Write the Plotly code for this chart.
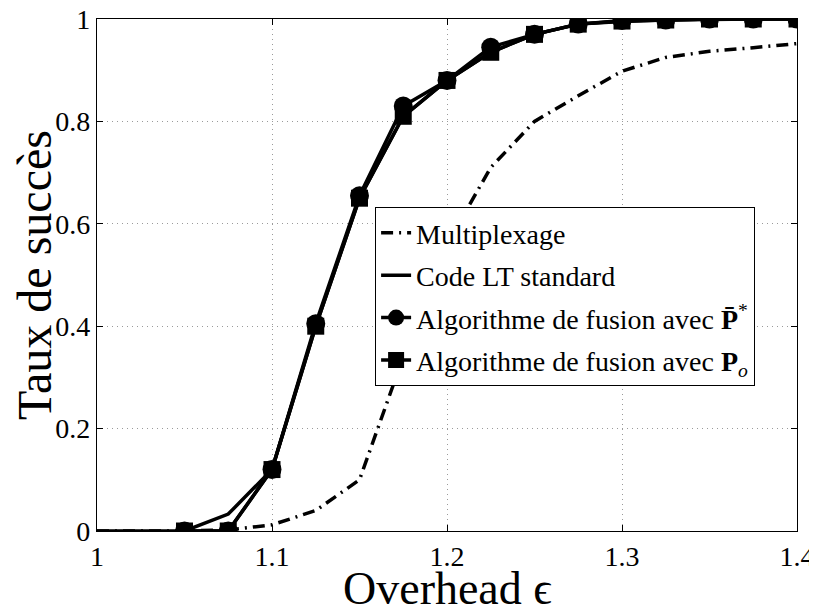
import plotly.graph_objects as go

x_all = [1.0, 1.025, 1.05, 1.075, 1.1, 1.125, 1.15, 1.175, 1.2, 1.225, 1.25, 1.275, 1.3, 1.325, 1.35, 1.375, 1.4]
multiplexage = [0, 0, 0, 0.002, 0.012, 0.04, 0.1, 0.34, 0.56, 0.71, 0.80, 0.85, 0.898, 0.925, 0.937, 0.944, 0.952]
lt_standard = [0, 0, 0, 0.033, 0.12, 0.40, 0.65, 0.81, 0.88, 0.935, 0.97, 0.99, 0.995, 0.998, 1.0, 1.0, 1.0]

x_fusion = [1.05, 1.075, 1.1, 1.125, 1.15, 1.175, 1.2, 1.225, 1.25, 1.275, 1.3, 1.325, 1.35, 1.375, 1.4]
fusion_pbar = [0, 0, 0.12, 0.405, 0.655, 0.83, 0.88, 0.945, 0.97, 0.99, 0.997, 0.998, 1.0, 1.0, 1.0]
fusion_po = [0, 0, 0.12, 0.40, 0.65, 0.81, 0.88, 0.935, 0.97, 0.99, 0.996, 0.998, 1.0, 1.0, 1.0]

x_ticks = [1, 1.1, 1.2, 1.3, 1.4]
x_tick_text = ["1", "1.1", "1.2", "1.3", "1.4"]
y_ticks = [0, 0.2, 0.4, 0.6, 0.8, 1]
y_tick_text = ["0", "0.2", "0.4", "0.6", "0.8", "1"]

x_title = "Overhead ϵ"
y_title = "Taux de succès"

FONT = "Liberation Serif, DejaVu Serif, serif"

fig = go.Figure()
fig.add_trace(go.Scatter(x=x_all, y=multiplexage, mode="lines", name="Multiplexage",
                         line=dict(color="black", width=3.5, dash="12px,6px,2px,6px"), legendgroup="a"))
fig.add_trace(go.Scatter(x=x_all, y=lt_standard, mode="lines", name="Code LT standard",
                         line=dict(color="black", width=3.5), legendgroup="b"))
fig.add_trace(go.Scatter(x=x_fusion, y=fusion_pbar, mode="lines+markers",
                         name="Algorithme de fusion avec <b>P̄</b><sup>*</sup>",
                         line=dict(color="black", width=3.5),
                         marker=dict(symbol="circle", size=19, color="black"), legendgroup="c"))
fig.add_trace(go.Scatter(x=x_fusion, y=fusion_po, mode="lines+markers",
                         name="Algorithme de fusion avec <b>P</b><sub><i>o</i></sub>",
                         line=dict(color="black", width=3.5),
                         marker=dict(symbol="square", size=17, color="black"), legendgroup="d"))

axis_common = dict(showline=True, linecolor="black", linewidth=1.2, mirror="ticks",
                   ticks="inside", ticklen=6, tickcolor="black",
                   showgrid=True, gridcolor="#9a9a9a", griddash="1px,4px", gridwidth=1,
                   zeroline=False, ticklabeloverflow="allow",
                   tickfont=dict(family=FONT, size=28, color="black"))

# The page body adds an ~8px offset, so margins are shifted to put the plot area
# at x 97..797, y 19..531 in the screenshot.
fig.update_layout(
    width=817, height=610,
    margin=dict(l=89, r=28, t=11, b=87),
    paper_bgcolor="white", plot_bgcolor="white",
    font=dict(family=FONT, color="black"),
    xaxis=dict(range=[1, 1.4], tickvals=x_ticks, ticktext=x_tick_text,
               automargin=False, **axis_common),
    yaxis=dict(range=[0, 1], tickvals=y_ticks, ticktext=y_tick_text,
               title=dict(text=y_title, font=dict(family=FONT, size=48), standoff=4),
               automargin=False, **axis_common),
    legend=dict(x=0.397, y=0.633, xanchor="left", yanchor="top",
                bgcolor="white", bordercolor="black", borderwidth=1.2,
                font=dict(family=FONT, size=28), tracegroupgap=3, itemwidth=30),
    showlegend=True,
    annotations=[dict(text=x_title, xref="paper", yref="paper", x=0.5, y=0,
                      xanchor="center", yanchor="top", yshift=-30, showarrow=False,
                      font=dict(family=FONT, size=46, color="black"))],
)

fig.write_html("out.html")
